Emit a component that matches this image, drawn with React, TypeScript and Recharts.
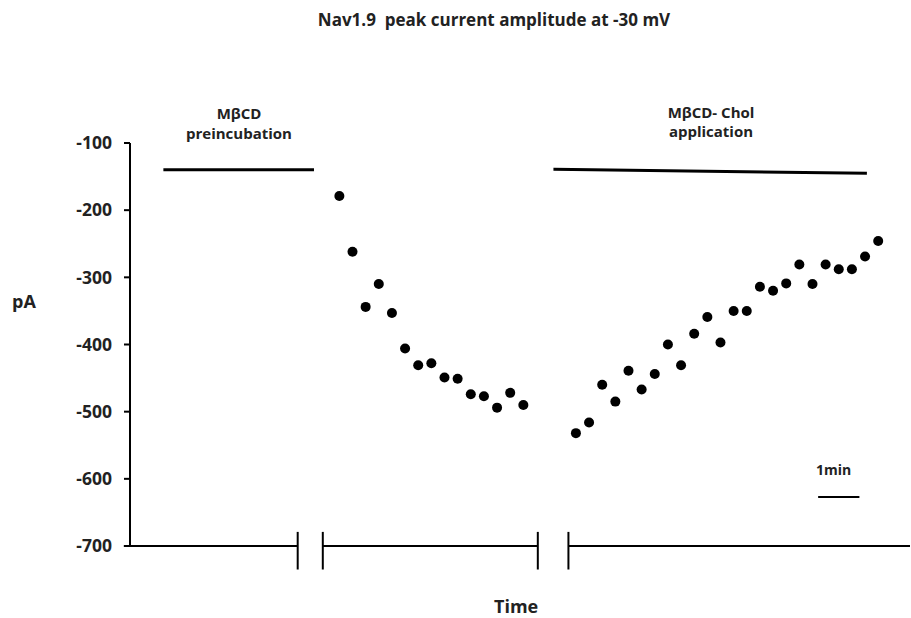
import React from "react";
import { ComposedChart, Scatter, XAxis, YAxis, ReferenceLine } from "recharts";

// Sample index (one sample ~20 s) and peak current (pA)
const preTime = [0, 1, 2, 3, 4, 5, 6, 7, 8, 9, 10, 11, 12, 13, 14];
const preValues = [-179, -262, -344, -310, -353, -406, -431, -428, -449, -451, -474, -477, -494, -472, -490];
const cholTime = [18, 19, 20, 21, 22, 23, 24, 25, 26, 27, 28, 29, 30, 31, 32, 33, 34, 35, 36, 37, 38, 39, 40, 41];
const cholValues = [-532, -516, -460, -485, -439, -467, -444, -400, -431, -384, -359, -397, -350, -350, -314, -320, -309, -281, -310, -281, -288, -288, -269, -246];

const yTicks = [-100, -200, -300, -400, -500, -600, -700];
const xDomain = [-15.93, 43.42];

// Horizontal application bars [x1, y1, x2, y2]
const preBar = [-13.39, -140, -1.93, -140];
const cholBar = [16.29, -139, 40.14, -145];
// Broken time axis segments and break marks
const axisSegments = [[-16.4, -3.17], [-1.26, 15.1], [17.43, 43.42]];
const breakMarks = [-3.17, -1.26, 15.1, 17.43];
const scaleBar = [36.43, 39.57, -627];

const preData = preTime.map((t, i) => ({ t, v: preValues[i] }));
const cholData = cholTime.map((t, i) => ({ t, v: cholValues[i] }));

const FONT = "'Open Sans', sans-serif";

const Dot = (props: any) => <circle cx={props.cx} cy={props.cy} r={5} fill="#000" />;

const txt = (style: React.CSSProperties): React.CSSProperties => ({
  position: "absolute",
  fontFamily: FONT,
  fontWeight: 700,
  color: "#222",
  whiteSpace: "nowrap",
  ...style,
});

export default function App() {
  return (
    <div style={{ position: "absolute", left: 0, top: 0, width: 911, height: 618, background: "#fff" }}>
      <ComposedChart
        width={911}
        height={618}
        margin={{ top: 143, right: 1, bottom: 72, left: 70 }}
      >
        <XAxis dataKey="t" type="number" domain={xDomain} hide allowDataOverflow />
        <YAxis
          type="number"
          domain={[-700, -100]}
          ticks={yTicks}
          width={60}
          axisLine={{ stroke: "#000", strokeWidth: 2 }}
          tickLine={{ stroke: "#000", strokeWidth: 2 }}
          tickSize={6}
          tickMargin={12}
          tick={{ fill: "#222", fontSize: 17.5, fontWeight: 700, fontFamily: FONT }}
          allowDataOverflow
        />
        {axisSegments.map((s, i) => (
          <ReferenceLine
            key={"ax" + i}
            segment={[{ x: s[0], y: -700 }, { x: s[1], y: -700 }]}
            stroke="#000"
            strokeWidth={2}
            ifOverflow="visible"
          />
        ))}
        {breakMarks.map((x, i) => (
          <ReferenceLine
            key={"bk" + i}
            segment={[{ x, y: -679 }, { x, y: -735 }]}
            stroke="#000"
            strokeWidth={2}
            ifOverflow="visible"
          />
        ))}
        <ReferenceLine
          segment={[{ x: preBar[0], y: preBar[1] }, { x: preBar[2], y: preBar[3] }]}
          stroke="#000"
          strokeWidth={3}
          ifOverflow="visible"
        />
        <ReferenceLine
          segment={[{ x: cholBar[0], y: cholBar[1] }, { x: cholBar[2], y: cholBar[3] }]}
          stroke="#000"
          strokeWidth={3}
          ifOverflow="visible"
        />
        <ReferenceLine
          segment={[{ x: scaleBar[0], y: scaleBar[2] }, { x: scaleBar[1], y: scaleBar[2] }]}
          stroke="#000"
          strokeWidth={2}
          ifOverflow="visible"
        />
        <Scatter data={preData} dataKey="v" shape={Dot} isAnimationActive={false} />
        <Scatter data={cholData} dataKey="v" shape={Dot} isAnimationActive={false} />
      </ComposedChart>
      <div style={txt({ left: 294, width: 400, top: 8, textAlign: "center", fontSize: 17 })}>
        Nav1.9&nbsp; peak current amplitude at -30 mV
      </div>
      <div style={txt({ left: 139, width: 200, top: 103, textAlign: "center", fontSize: 15, lineHeight: "20px" })}>
        MβCD<br />preincubation
      </div>
      <div style={txt({ left: 611, width: 200, top: 103, textAlign: "center", fontSize: 15, lineHeight: "19px" })}>
        MβCD- Chol<br />application
      </div>
      <div style={txt({ left: 12, top: 289, fontSize: 18 })}>pA</div>
      <div style={txt({ left: 494, top: 594, fontSize: 18 })}>Time</div>
      <div style={txt({ left: 816, top: 460, fontSize: 14 })}>1min</div>
    </div>
  );
}
